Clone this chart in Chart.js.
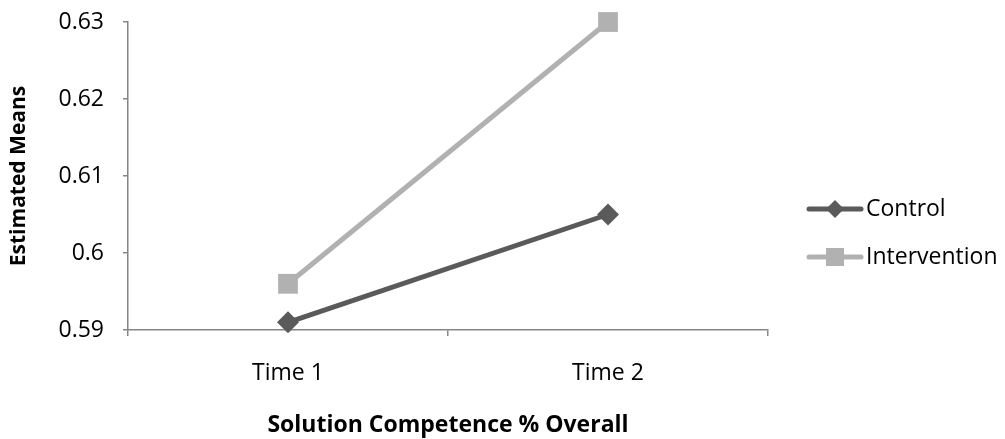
<!DOCTYPE html>
<html>
<head>
<meta charset="utf-8">
<script src="https://cdn.jsdelivr.net/npm/chart.js@4/dist/chart.umd.min.js"></script>
<style>
html,body{margin:0;padding:0;background:#fff;}
#wrap{width:1005px;height:439px;position:relative;}
</style>
</head>
<body>
<div id="wrap"><canvas id="c" width="1005" height="439"></canvas></div>
<script>
const categories = ["Time 1", "Time 2"];
const controlValues = [0.591, 0.605];
const interventionValues = [0.596, 0.630];
const seriesNames = ["Control", "Intervention"];
const yMin = 0.59, yMax = 0.63, yStep = 0.01;
const xTitle = "Solution Competence % Overall";
const yTitle = "Estimated Means";

const FONT = "'Open Sans', sans-serif";
const AXIS = "#868686";
const C1 = "#5a5a5a", C2 = "#b1b1b1";

const legendPlugin = {
  id: 'sideLegend',
  afterDraw(chart) {
    const ctx = chart.ctx;
    const ys = [209, 257];
    chart.data.datasets.forEach((ds, i) => {
      const y = ys[i];
      ctx.save();
      ctx.strokeStyle = ds.borderColor;
      ctx.lineWidth = 5;
      ctx.lineCap = 'round';
      ctx.beginPath(); ctx.moveTo(809, y); ctx.lineTo(861, y); ctx.stroke();
      ctx.fillStyle = ds.borderColor;
      const cx = 835;
      if (ds.pointStyle === 'rectRot') {
        ctx.beginPath();
        ctx.moveTo(cx, y - 9); ctx.lineTo(cx + 9, y); ctx.lineTo(cx, y + 9); ctx.lineTo(cx - 9, y);
        ctx.closePath(); ctx.fill();
      } else {
        ctx.fillRect(cx - 9, y - 9, 18, 18);
      }
      ctx.fillStyle = '#000';
      ctx.font = "23px " + FONT;
      ctx.textBaseline = 'middle';
      ctx.textAlign = 'left';
      ctx.fillText(ds.label, 866, y);
      ctx.restore();
    });
  }
};

new Chart(document.getElementById('c'), {
  type: 'line',
  data: {
    labels: categories,
    datasets: [
      { label: seriesNames[0], data: controlValues, borderColor: C1, backgroundColor: C1, clip: false,
        borderWidth: 5, pointStyle: 'rectRot', pointRadius: 11, pointHoverRadius: 11, pointBorderWidth: 0, tension: 0 },
      { label: seriesNames[1], data: interventionValues, borderColor: C2, backgroundColor: C2, clip: false,
        borderWidth: 5, pointStyle: 'rect', pointRadius: 14, pointHoverRadius: 14, pointBorderWidth: 0, tension: 0 }
    ]
  },
  options: {
    responsive: false,
    animation: false,
    layout: { padding: { top: 22, right: 237, left: 0, bottom: 0 } },
    plugins: { legend: { display: false }, tooltip: { enabled: false } },
    scales: {
      x: {
        type: 'category',
        offset: true,
        grid: { offset: true, drawOnChartArea: false, color: AXIS, tickLength: 6, lineWidth: 1.5 },
        border: { display: true, color: AXIS, width: 1.5 },
        ticks: { color: '#000', font: { family: FONT, size: 23 }, padding: 24, maxRotation: 0 },
        title: { display: true, text: xTitle, color: '#000', font: { family: FONT, size: 23, weight: 'bold' }, padding: { top: 18, bottom: 0 } },
        afterFit(scale) { scale.height = 109; scale.paddingLeft = 0; scale.paddingRight = 0; }
      },
      y: {
        min: yMin, max: yMax,
        ticks: { stepSize: yStep, color: '#000', font: { family: FONT, size: 23 }, padding: 19,
          callback: (v) => String(Number(v.toFixed(2))) },
        grid: { drawOnChartArea: false, color: AXIS, tickLength: 5, lineWidth: 1.5 },
        border: { display: true, color: AXIS, width: 1.5 },
        title: { display: true, text: yTitle, color: '#000', font: { family: FONT, size: 21, weight: 'bold' }, padding: { top: 6, bottom: 6 } },
        afterFit(scale) { scale.width = 128; scale.paddingTop = 0; scale.paddingBottom = 0; }
      }
    }
  },
  plugins: [legendPlugin]
});
</script>
</body>
</html>
